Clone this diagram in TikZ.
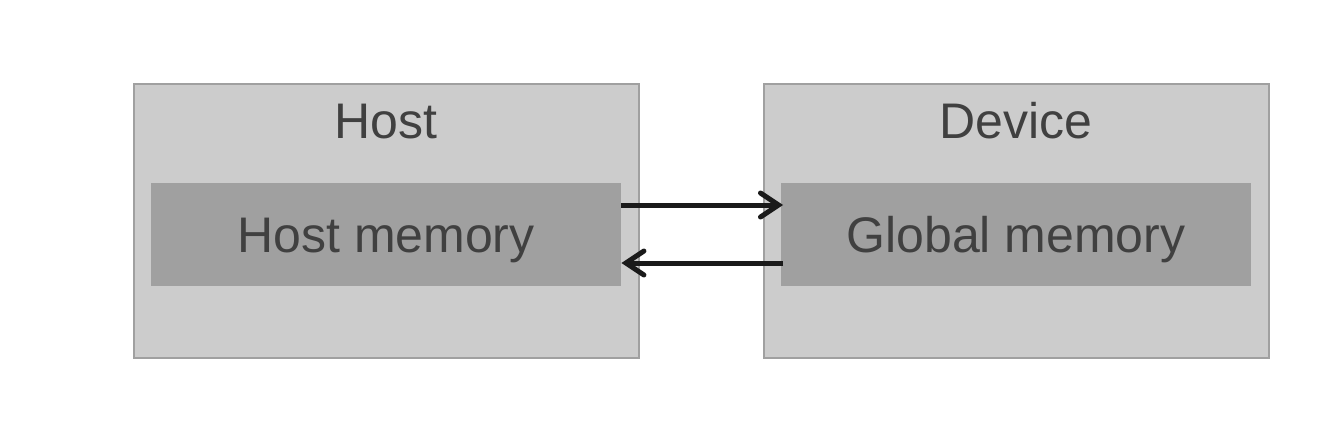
\documentclass[tikz,border=0pt]{standalone}
\usepackage{fontspec}
\setmainfont{Liberation Sans}
\usetikzlibrary{arrows.meta}
\definecolor{outerfill}{HTML}{CCCCCC}
\definecolor{outerdraw}{HTML}{A0A0A0}
\definecolor{innerfill}{HTML}{A0A0A0}
\definecolor{txt}{HTML}{404040}
\definecolor{arr}{HTML}{1A1A1A}
\begin{document}
\begin{tikzpicture}[x=1pt,y=-1pt,
  outerbox/.style={draw=outerdraw,fill=outerfill,line width=1.5pt,minimum width=505pt,minimum height=274pt,inner sep=0pt,anchor=north west},
  innerbox/.style={fill=innerfill,minimum width=470pt,minimum height=103pt,inner sep=0pt,anchor=north west},
  lbl/.style={text=txt,font=\fontsize{50pt}{55pt}\selectfont,inner sep=0pt},
  conn/.style={draw=arr,line width=5pt,-{Straight Barb[length=18pt,width=24pt,line cap=round]}}]
\useasboundingbox (0,0) rectangle (1332,436);
\fill[white] (0,0) rectangle (1332,436);
\node[outerbox] (host) at (133,83) {};
\node[outerbox] (dev) at (763,83) {};
\node[innerbox] (hmem) at (151,183) {};
\node[innerbox] (gmem) at (781,183) {};
\node[lbl,anchor=base] (hostlbl) at (386,138) {Host};
\node[lbl,anchor=base] (devlbl) at (1016,138) {Device};
\node[lbl,anchor=base] (hmemlbl) at (386,252) {Host memory};
\node[lbl,anchor=base] (gmemlbl) at (1016,252) {Global memory};
\coordinate (a1) at ([yshift=-22pt]hmem.north east);
\coordinate (b1) at ([xshift=2pt,yshift=-22pt]gmem.north west);
\coordinate (a2) at ([xshift=2pt,yshift=-80pt]gmem.north west);
\coordinate (b2) at ([yshift=-80pt]hmem.north east);
\draw[conn] (a1) -- (b1);
\draw[conn] (a2) -- (b2);
\end{tikzpicture}
\end{document}
